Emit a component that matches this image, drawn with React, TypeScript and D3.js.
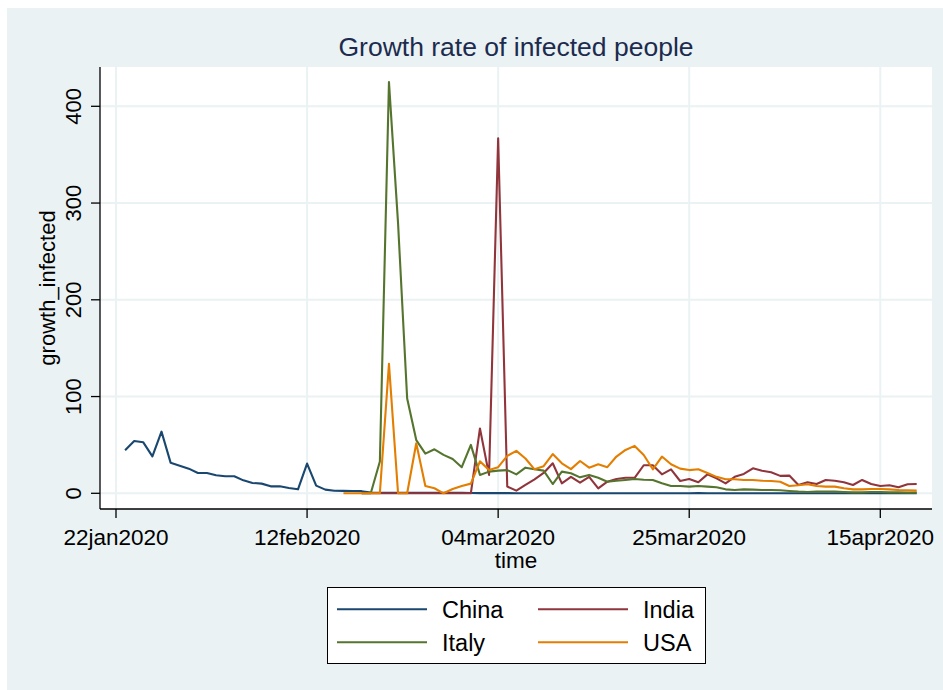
import * as d3 from "d3";

const W = 943;
const H = 690;
const DAY = 86400000;

// plot region (page coordinates)
const LEFT = 100;
const RIGHT = 932;
const TOP = 67;
const BOTTOM = 509;

const BG = "#eaf2f3";

const X_TICKS = ["2020-01-22", "2020-02-12", "2020-03-04", "2020-03-25", "2020-04-15"];
const X_TICK_LABELS = ["22jan2020", "12feb2020", "04mar2020", "25mar2020", "15apr2020"];
const Y_TICKS = [0, 100, 200, 300, 400];

const COUNTRIES = ["China", "India", "Italy", "USA"];
const COLORS = ["#1a476f", "#90353b", "#55752f", "#e37e00"];
const STARTS = ["2020-01-23", "2020-02-18", "2020-02-18", "2020-02-16"];

const CHINA = [
  44.4, 54.1, 52.7, 38.2, 63.7, 31.7, 28.6, 25.5, 21, 21, 18.6, 17.6, 17.6, 13.4, 10.7, 10, 7.2, 7.2, 5.5, 4.1,
  30.7, 7.9, 3.8, 2.6, 2.5, 2.4, 2.2, 0.8, 0.6, 0.6, 0.5, 0.4, 0.5, 0.6, 0.5, 0.5, 0.4, 0.4, 0.3, 0.2,
  0.2, 0.2, 0.2, 0.1, 0.1, 0.1, 0.1, 0.1, 0.1, 0.1, 0.1, 0.1, 0.1, 0.1, 0.1, 0.1, 0.1, 0.1, 0.1, 0.1,
  0.1, 0.1, 0.1, 0.2, 0.1, 0.1, 0.1, 0.1, 0.1, 0.1, 0.1, 0.1, 0.1, 0.1, 0.1, 0.1, 0.1, 0.1, 0.1, 0.1,
  0.1, 0.1, 0.1, 0.1, 0.1, 0.1, 0.1, 0.1,
];

const INDIA = [
  0, 0, 0, 0, 0, 0, 0, 0, 0, 0, 0, 0, 0,
  67, 19, 367, 7, 2.8, 8.6, 14.5, 21, 31, 10.3, 17, 11, 17, 5, 12, 14.8, 16, 16, 29, 29,
  19.6, 24.8, 12.7, 14.8, 11.4, 19.6, 15.5, 10.3, 17, 20, 25.8, 23.4, 21.7, 18, 18.3, 8.6, 11.4, 9.6,
  13.8, 13, 11.4, 8.6, 13.8, 9.6, 7.6, 8.3, 6.2, 9.3, 9.6,
];

const ITALY = [
  0, 0, 32.8, 425, 279, 98, 55, 41, 45.5, 39.7, 35.5, 27, 50, 19, 22.4, 23.4, 24, 19.6, 26.5, 24.8,
  23.4, 9.6, 22.4, 20.7, 16.5, 19, 16, 12, 13, 13.8, 14.8, 14, 13.8, 10.3, 7.6, 7.6, 6.9, 7.6, 6.9, 6.2,
  4.1, 3.4, 4.1, 3.8, 3.4, 3.4, 3.1, 2.4, 1.7, 1.4, 1.7, 1.7, 1.7, 1.4, 1, 1, 1.4, 1.4, 1, 1, 0.7, 0.7,
];

const USA = [
  0, 0, 0, 0, 0, 133.8, 0, 0, 51.7, 7.6, 5.2, 0, 4.5, 7.6, 10, 33, 24, 27, 38.6, 43.8, 36, 24.8,
  28, 40.6, 31, 25, 33.4, 26.5, 30, 27, 38, 44.8, 49, 39.6, 24.8, 38, 30, 25.5, 24, 24.8, 21, 17,
  14.5, 14.5, 13.8, 13.8, 13, 12.7, 12, 7.6, 8.3, 9.3, 7.6, 6.9, 6.9, 5.2, 4.1, 4.1, 4.5, 4.5, 4.1, 3.4,
  3.1, 2.8,
];

const SERIES_VALUES = [CHINA, INDIA, ITALY, USA];

type Pt = { date: Date; value: number };

function toPoints(start: string, values: number[]): Pt[] {
  const t0 = Date.parse(start + "T00:00:00Z");
  return values.map((v, i) => ({ date: new Date(t0 + i * DAY), value: v }));
}

const FONT = "'Liberation Sans', Arial, Helvetica, sans-serif";

export default function App() {
  const x = d3
    .scaleUtc()
    .domain([new Date(X_TICKS[0] + "T00:00:00Z"), new Date(X_TICKS[4] + "T00:00:00Z")])
    .range([116, 880.3]);
  const y = d3.scaleLinear().domain([0, 400]).range([493.3, 106.3]);

  const line = d3
    .line<Pt>()
    .x((d) => x(d.date))
    .y((d) => y(d.value));

  const series = COUNTRIES.map((name, i) => ({
    name,
    color: COLORS[i],
    path: line(toPoints(STARTS[i], SERIES_VALUES[i])) ?? "",
  }));

  const xTicks = X_TICKS.map((s, i) => ({ x: x(new Date(s + "T00:00:00Z")), label: X_TICK_LABELS[i] }));

  // legend layout
  const lgX = 327.5;
  const lgY = 587.5;
  const rows = [609.3, 642.3];
  const cols = [337, 538];

  return (
    <svg
      width={W}
      height={H}
      style={{ position: "absolute", left: 0, top: 0, display: "block" }}
      fontFamily={FONT}
    >
      <rect x={0} y={0} width={W} height={H} fill="#ffffff" />
      <rect x={7} y={8} width={W - 7} height={H - 8} fill={BG} />
      <rect x={LEFT} y={TOP} width={RIGHT - LEFT} height={BOTTOM - TOP} fill="#ffffff" />

      {/* grid */}
      <g stroke={BG} strokeWidth={2}>
        {Y_TICKS.map((t) => (
          <line key={`gy${t}`} x1={LEFT} x2={RIGHT} y1={y(t)} y2={y(t)} />
        ))}
        {xTicks.map((t) => (
          <line key={`gx${t.label}`} x1={t.x} x2={t.x} y1={TOP} y2={BOTTOM} />
        ))}
      </g>

      {/* series */}
      <g fill="none" strokeWidth={2.1} strokeLinejoin="round">
        {series.map((s) => (
          <path key={s.name} d={s.path} stroke={s.color} />
        ))}
      </g>

      {/* axes */}
      <g stroke="#000" strokeWidth={1.3}>
        <line x1={LEFT} x2={LEFT} y1={TOP} y2={BOTTOM} />
        <line x1={LEFT} x2={RIGHT} y1={BOTTOM} y2={BOTTOM} />
        {Y_TICKS.map((t) => (
          <line key={`ty${t}`} x1={91} x2={LEFT} y1={y(t)} y2={y(t)} />
        ))}
        {xTicks.map((t) => (
          <line key={`tx${t.label}`} x1={t.x} x2={t.x} y1={BOTTOM} y2={518} />
        ))}
      </g>

      {Y_TICKS.map((t) => (
        <text
          key={`ly${t}`}
          transform={`translate(81,${y(t)}) rotate(-90)`}
          textAnchor="middle"
          fontSize={22}
          fill="#000"
        >
          {t}
        </text>
      ))}
      {xTicks.map((t) => (
        <text key={`lx${t.label}`} x={t.x} y={545} textAnchor="middle" fontSize={22.5} fill="#000">
          {t.label}
        </text>
      ))}

      <text
        transform={`translate(55,${(TOP + BOTTOM) / 2}) rotate(-90)`}
        textAnchor="middle"
        fontSize={22}
        fill="#000"
      >
        growth_infected
      </text>
      <text x={(LEFT + RIGHT) / 2} y={568} textAnchor="middle" fontSize={22.5} fill="#000">
        time
      </text>

      <text x={(LEFT + RIGHT) / 2} y={56} textAnchor="middle" fontSize={26.5} fill="#1c2b4e">
        Growth rate of infected people
      </text>

      {/* legend */}
      <rect x={lgX} y={lgY} width={378} height={76} fill="#ffffff" stroke="#000" strokeWidth={1} />
      {series.map((s, i) => {
        const r = rows[Math.floor(i / 2)];
        const c = cols[i % 2];
        return (
          <g key={`lg${s.name}`}>
            <line x1={c} x2={c + 90} y1={r} y2={r} stroke={s.color} strokeWidth={2} />
            <text x={c + 105} y={r + 9} fontSize={23.5} fill="#000">
              {s.name}
            </text>
          </g>
        );
      })}
    </svg>
  );
}
